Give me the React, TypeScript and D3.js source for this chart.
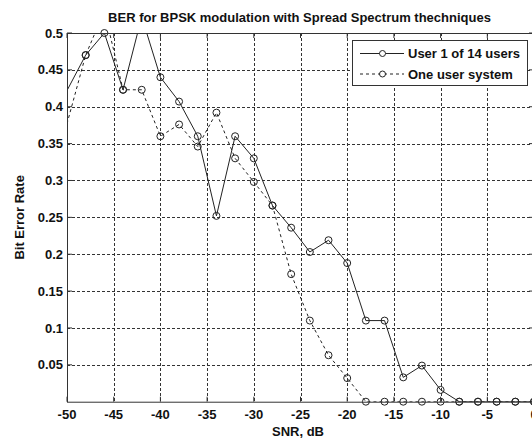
import React from "react";
import * as d3 from "d3";

const snr = [-50, -48, -46, -44, -42, -40, -38, -36, -34, -32, -30, -28, -26, -24, -22, -20, -18, -16, -14, -12, -10, -8, -6, -4, -2, 0];
const berMulti = [0.422, 0.47, 0.5, 0.423, 0.522, 0.44, 0.407, 0.36, 0.252, 0.36, 0.33, 0.266, 0.236, 0.203, 0.219, 0.188, 0.11, 0.11, 0.033, 0.049, 0.016, 0, 0, 0, 0, 0];
const berSingle = [0.377, 0.47, 0.53, 0.423, 0.423, 0.36, 0.376, 0.346, 0.392, 0.33, 0.298, 0.266, 0.173, 0.11, 0.063, 0.032, 0, 0, 0, 0, 0, 0, 0, 0, 0, 0];
const xTicks = [-50, -45, -40, -35, -30, -25, -20, -15, -10, -5, 0];
const yTicks = [0.05, 0.1, 0.15, 0.2, 0.25, 0.3, 0.35, 0.4, 0.45, 0.5];
const seriesNames = ["User 1 of 14 users", "One user system"];
const titleText = "BER for BPSK modulation with Spread Spectrum thechniques";
const xLabel = "SNR, dB";
const yLabel = "Bit Error Rate";

const W = 532;
const H = 442;
const L = 67, R = 534, T = 33, B = 401.7;
const FONT = "'Liberation Sans', Arial, sans-serif";
const INK = "#222";

export default function App() {
  const x = d3.scaleLinear().domain([-50, 0]).range([L, R]);
  const y = d3.scaleLinear().domain([0, 0.5]).range([B, T]);
  const line = d3.line<number>().x((_, i) => x(snr[i])).y((d) => y(d));
  const series = [
    { vals: berMulti, dash: undefined as string | undefined },
    { vals: berSingle, dash: "3,3" },
  ];
  return (
    <svg width={W} height={H} style={{ position: "absolute", left: 0, top: 0, background: "#fff" }} fontFamily={FONT}>
      <defs>
        <clipPath id="plot">
          <rect x={L} y={T} width={R - L} height={B - T} />
        </clipPath>
      </defs>
      <rect x={0} y={0} width={W} height={H} fill="#fff" />
      {/* grid */}
      <g stroke="#333" strokeWidth={1} strokeDasharray="3,2">
        {xTicks.filter((t) => t > -50 && t < 0).map((t) => (
          <line key={"gx" + t} x1={Math.round(x(t)) + 0.5} x2={Math.round(x(t)) + 0.5} y1={T} y2={B} />
        ))}
        {yTicks.filter((t) => t < 0.5).map((t) => (
          <line key={"gy" + t} x1={L} x2={R} y1={Math.round(y(t)) + 0.5} y2={Math.round(y(t)) + 0.5} />
        ))}
      </g>
      {/* series */}
      <g clipPath="url(#plot)">
        {series.map((s, k) => (
          <path key={k} d={line(s.vals) || ""} fill="none" stroke={INK} strokeWidth={1} strokeDasharray={s.dash} />
        ))}
      </g>
      {series.map((s, k) => (
        <g key={"m" + k}>
          {s.vals.map((v, i) =>
            snr[i] > -50 && v <= 0.5 ? (
              <circle key={i} cx={x(snr[i])} cy={y(v)} r={3.5} fill="none" stroke={INK} strokeWidth={1} />
            ) : null
          )}
        </g>
      ))}
      {/* axes box */}
      <rect x={L + 0.5} y={T + 0.5} width={R - L - 1} height={B - T} fill="none" stroke="#333" strokeWidth={1} />
      <g stroke="#333" strokeWidth={1}>
        {xTicks.map((t) => (
          <g key={"tx" + t}>
            <line x1={x(t)} x2={x(t)} y1={B} y2={B - 5} />
            <line x1={x(t)} x2={x(t)} y1={T} y2={T + 5} />
          </g>
        ))}
        {yTicks.map((t) => (
          <g key={"ty" + t}>
            <line x1={L} x2={L + 5} y1={y(t)} y2={y(t)} />
            <line x1={R} x2={R - 5} y1={y(t)} y2={y(t)} />
          </g>
        ))}
      </g>
      {/* tick labels */}
      <g fontSize={13} fontWeight="bold" fill="#111">
        {xTicks.map((t) => (
          <text key={"lx" + t} x={x(t)} y={419} textAnchor="middle">{String(t)}</text>
        ))}
        {yTicks.map((t) => (
          <text key={"ly" + t} x={63} y={y(t) + 4.6} textAnchor="end">{String(t)}</text>
        ))}
      </g>
      {/* labels */}
      <text x={299.5} y={22} textAnchor="middle" fontSize={13} fontWeight="bold" fill="#111">{titleText}</text>
      <text x={298} y={436} textAnchor="middle" fontSize={13} fontWeight="bold" fill="#111">{xLabel}</text>
      <text transform={`translate(24,${(T + B) / 2}) rotate(-90)`} textAnchor="middle" fontSize={13} fontWeight="bold" fill="#111">{yLabel}</text>
      {/* legend */}
      <g>
        <rect x={352.5} y={40.5} width={175} height={45} fill="#fff" stroke="#333" strokeWidth={1} />
        {series.map((s, k) => {
          const cy = 53.5 + k * 20.5;
          return (
            <g key={"lg" + k}>
              <line x1={360} x2={404} y1={cy} y2={cy} stroke={INK} strokeWidth={1} strokeDasharray={s.dash} />
              <circle cx={382.5} cy={cy} r={3} fill="#fff" stroke={INK} strokeWidth={1} />
              <text x={408} y={cy + 4.6} fontSize={13} fontWeight="bold" fill="#111">{seriesNames[k]}</text>
            </g>
          );
        })}
      </g>
    </svg>
  );
}
